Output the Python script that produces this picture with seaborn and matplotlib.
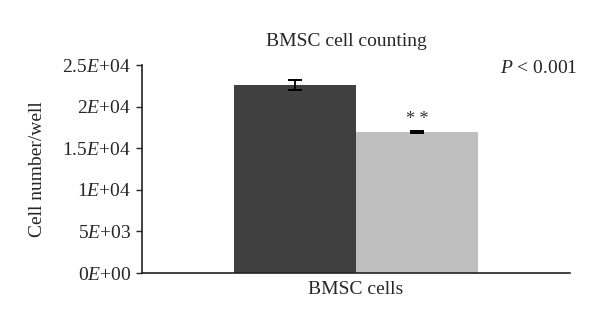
import matplotlib
matplotlib.use("Agg")
import matplotlib.pyplot as plt
import seaborn as sns
import pandas as pd

# Cell counts per well (mean ± error) for the two BMSC groups
groups = ["Group A", "Group B"]
means = [22600, 17000]
errors = [600, 130]
category = ["BMSC cells", "BMSC cells"]
bar_colors = ["#404040", "#bfbfbf"]
ytick_values = [0, 5000, 10000, 15000, 20000, 25000]
ytick_labels = ["0$\\mathit{E}$+00", "5$\\mathit{E}$+03", "1$\\mathit{E}$+04",
                "1.5$\\mathit{E}$+04", "2$\\mathit{E}$+04", "2.5$\\mathit{E}$+04"]

sns.set_style("white")
plt.rcParams["font.family"] = ["Liberation Serif", "DejaVu Serif"]
plt.rcParams["mathtext.fontset"] = "custom"
plt.rcParams["mathtext.rm"] = "Liberation Serif"
plt.rcParams["mathtext.it"] = "Liberation Serif:italic"

FS = 14

df = pd.DataFrame({"cat": category, "group": groups, "value": means})

fig = plt.figure(figsize=(6, 3.27), dpi=100)
ax = fig.add_axes([0.2367, 0.165, 0.7133, 0.636])

sns.barplot(data=df, x="cat", y="value", hue="group", palette=bar_colors,
            errorbar=None, width=0.8, saturation=1, legend=False, ax=ax,
            edgecolor="none")

# error bars centred on each drawn bar
for patch, m, e in zip(ax.patches, means, errors):
    cx = patch.get_x() + patch.get_width() / 2
    ax.errorbar(cx, m, yerr=e, color="black", capsize=5, elinewidth=1.3,
                capthick=1.4, fmt="none")

# significance marker over the second bar
p2 = ax.patches[1]
ax.text(p2.get_x() + p2.get_width() / 2, means[1] + errors[1] + 250, "* *",
        ha="center", va="bottom", fontsize=13, color="#333333")

ax.set_xlim(-0.7, 0.7)
ax.set_ylim(0, 25000)
ax.set_yticks(ytick_values)
ax.set_yticklabels(ytick_labels, fontsize=FS)
ax.tick_params(axis="y", direction="out", length=4, width=1, left=True, pad=4)
ax.tick_params(axis="x", length=0, labelsize=FS, pad=6)
ax.set_xlabel("")
ax.set_ylabel("Cell number/well", fontsize=FS, labelpad=12)

for side in ["top", "right"]:
    ax.spines[side].set_visible(False)
for side in ["left", "bottom"]:
    ax.spines[side].set_color("#222222")
    ax.spines[side].set_linewidth(1.2)

fig.text(0.577, 0.872, "BMSC cell counting", ha="center", va="center", fontsize=FS)
fig.text(0.962, 0.79, "$\\mathit{P}$ < 0.001", ha="right", va="center", fontsize=FS)

fig.savefig("out.png", dpi=100)
